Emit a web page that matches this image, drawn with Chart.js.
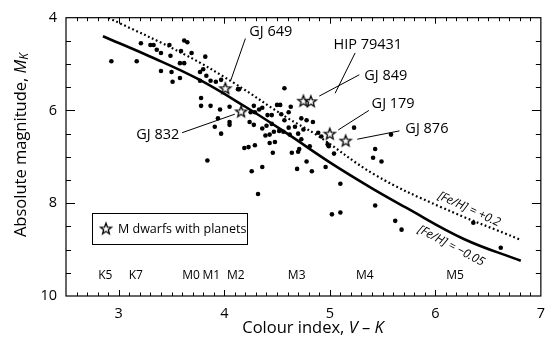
<!DOCTYPE html>
<html><head><meta charset="utf-8">
<script src="https://cdn.jsdelivr.net/npm/chart.js@4/dist/chart.umd.min.js"></script>
<style>html,body{margin:0;padding:0;background:#fff;}canvas{display:block;}</style>
</head><body>
<canvas id="c" width="554" height="344"></canvas>
<script>
// ---------- data ----------
const X_TICKS = [3, 4, 5, 6, 7];
const Y_TICKS = [4, 6, 8, 10];

// field M dwarfs: colour index V-K and absolute magnitude M_K
const FIELD_VK = [2.93,3.17,3.21,3.30,3.33,3.36,3.40,3.40,3.48,3.49,3.50,3.51,3.58,3.62,3.58,3.62,3.65,3.59,3.69,3.77,
  3.80,3.82,3.77,3.83,3.87,3.92,3.97,4.13,4.14,3.78,3.78,3.87,3.96,4.05,3.94,3.91,3.97,4.05,4.05,4.28,
  4.33,4.36,4.25,4.29,4.41,4.45,4.24,4.28,4.40,4.36,4.45,4.43,4.39,4.19,4.23,4.29,3.84,4.26,4.36,4.32,
  4.57,4.50,4.53,4.63,4.54,4.61,4.57,4.73,4.78,4.84,4.75,4.47,4.56,4.61,4.67,4.70,4.62,4.52,4.73,4.43,
  4.48,4.64,4.70,4.71,4.81,4.78,4.69,4.83,4.96,4.46,4.89,4.92,4.98,4.99,5.04,5.23,5.58,5.43,5.41,5.49,
  5.10,5.02,5.10,5.43,5.62,5.68,6.36,6.62];
const FIELD_MK = [4.94,4.94,4.55,4.59,4.59,4.69,4.76,5.15,4.59,4.82,5.17,5.38,4.98,4.98,5.30,4.49,4.53,4.72,4.76,5.17,
  5.11,4.84,5.36,5.25,5.36,5.38,5.34,5.54,5.54,5.73,5.90,5.90,5.98,5.92,6.17,6.35,6.50,6.25,6.31,5.90,
  5.98,5.94,6.04,6.04,6.10,6.10,6.25,6.31,6.33,6.39,6.29,6.52,6.54,6.81,6.79,6.75,7.08,7.31,7.22,7.80,
  5.52,5.88,5.88,5.92,6.08,6.04,6.21,6.17,6.21,6.25,6.41,6.46,6.46,6.37,6.35,6.50,6.52,6.44,6.62,6.70,
  6.68,6.91,6.89,6.83,6.77,7.10,7.26,7.31,7.22,6.91,6.48,6.56,6.73,6.77,6.93,6.37,6.52,6.83,7.02,7.10,
  7.58,8.24,8.20,8.05,8.38,8.57,8.42,8.96];

// M dwarfs with planets
const PLANET_HOSTS = ['GJ 649', 'GJ 832', 'HIP 79431', 'GJ 849', 'GJ 179', 'GJ 876'];
const HOST_VK = [4.01, 4.16, 4.75, 4.82, 5.00, 5.15];
const HOST_MK = [5.52, 6.02, 5.79, 5.80, 6.50, 6.65];
// label centres and leader lines (data units)
const LABEL_VK = [4.44, 3.37, 5.36, 5.53, 5.60, 5.92];
const LABEL_MK = [4.30, 6.52, 4.58, 5.26, 5.86, 6.39];
const LEADER_VK0 = [4.20, 3.60, 5.24, 5.28, 5.37, 5.66];
const LEADER_MK0 = [4.45, 6.48, 4.76, 5.23, 6.00, 6.44];
const LEADER_VK1 = [4.06, 4.10, 5.05, 4.90, 5.08, 5.26];
const LEADER_MK1 = [5.36, 6.08, 5.63, 5.69, 6.42, 6.62];

// calibration curves
const SOLAR_VK = [2.85, 3.29, 3.75, 4.20, 4.59, 5.00, 5.40, 5.71, 6.27, 6.81];
const SOLAR_MK = [4.40, 4.83, 5.32, 5.92, 6.49, 7.12, 7.68, 8.08, 8.77, 9.24];
const RICH_VK = [2.90, 3.63, 4.10, 4.59, 4.87, 5.43, 6.05, 6.80];
const RICH_MK = [4.00, 4.80, 5.42, 6.15, 6.52, 7.39, 8.08, 8.78];
const CURVE_LABELS = ['[Fe/H] = +0.2', '[Fe/H] = \u22120.05'];
const CURVE_LABEL_VK = [6.32, 6.15];
const CURVE_LABEL_MK = [8.13, 8.92];

// spectral types along the colour axis
const SPECTRAL_TYPES = ['K5', 'K7', 'M0', 'M1', 'M2', 'M3', 'M4', 'M5'];
const SPECTRAL_VK = [2.873, 3.162, 3.685, 3.877, 4.11, 4.686, 5.332, 6.187];
const SPECTRAL_MK = 9.55;

// ---------- drawing ----------
const FONT = '"Open Sans", "DejaVu Sans", sans-serif';
const toXY = (xs, ys) => xs.map((x, i) => ({x: x, y: ys[i]}));

function makeStar(r) {
  const s = Math.ceil(r * 2 + 4);
  const c = document.createElement('canvas');
  c.width = c.height = s;
  const g = c.getContext('2d');
  g.translate(s / 2, s / 2 + 0.5);
  g.beginPath();
  for (let i = 0; i < 10; i++) {
    const rr = i % 2 ? r * 0.42 : r;
    const a = -Math.PI / 2 + i * Math.PI / 5;
    g.lineTo(rr * Math.cos(a), rr * Math.sin(a));
  }
  g.closePath();
  g.fillStyle = '#fff'; g.fill();
  g.lineWidth = 1.3; g.strokeStyle = '#000'; g.lineJoin = 'miter'; g.stroke();
  return c;
}
const STAR_IMG = makeStar(5.8);

function drawPieces(ctx, pieces, cx, cy, angle) {
  ctx.save();
  ctx.translate(cx, cy);
  ctx.rotate(angle);
  let total = 0;
  pieces.forEach(p => { ctx.font = p.font; p.w = ctx.measureText(p.t).width; total += p.w; });
  let x = -total / 2;
  ctx.textBaseline = 'middle';
  ctx.textAlign = 'left';
  ctx.fillStyle = '#000';
  pieces.forEach(p => { ctx.font = p.font; ctx.fillText(p.t, x, p.dy || 0); x += p.w; });
  ctx.restore();
}

const decor = {
  id: 'decor',
  afterDatasetsDraw(chart) {
    const ctx = chart.ctx, xs = chart.scales.x, ys = chart.scales.y;
    const L = chart.chartArea.left, R = chart.chartArea.right, T = chart.chartArea.top, B = chart.chartArea.bottom;
    ctx.save();
    ctx.strokeStyle = '#000';
    ctx.fillStyle = '#000';
    // frame
    ctx.lineWidth = 1.2;
    ctx.strokeRect(L, T, R - L, B - T);
    // ticks (inward, all four sides)
    ctx.lineWidth = 1;
    ctx.beginPath();
    for (let i = 26; i < 70; i++) {
      const v = i / 10, px = Math.round(xs.getPixelForValue(v)) + 0.5;
      const len = (i % 10 === 0) ? 6 : 3.5;
      ctx.moveTo(px, B); ctx.lineTo(px, B - len);
      ctx.moveTo(px, T); ctx.lineTo(px, T + len);
    }
    for (let i = 9; i < 20; i++) {
      const v = i / 2, py = Math.round(ys.getPixelForValue(v)) + 0.5;
      const len = (i % 4 === 0) ? 9 : 5;
      ctx.moveTo(L, py); ctx.lineTo(L + len, py);
      ctx.moveTo(R, py); ctx.lineTo(R - len, py);
    }
    ctx.stroke();

    // leader lines and host labels
    ctx.lineWidth = 1;
    ctx.beginPath();
    PLANET_HOSTS.forEach((n, i) => {
      ctx.moveTo(xs.getPixelForValue(LEADER_VK0[i]), ys.getPixelForValue(LEADER_MK0[i]));
      ctx.lineTo(xs.getPixelForValue(LEADER_VK1[i]), ys.getPixelForValue(LEADER_MK1[i]));
    });
    ctx.stroke();
    ctx.font = '14.5px ' + FONT;
    ctx.textAlign = 'center'; ctx.textBaseline = 'middle';
    PLANET_HOSTS.forEach((n, i) => {
      ctx.fillText(n, xs.getPixelForValue(LABEL_VK[i]), ys.getPixelForValue(LABEL_MK[i]));
    });

    // spectral types
    ctx.font = '12px ' + FONT;
    SPECTRAL_TYPES.forEach((s, i) => {
      ctx.fillText(s, xs.getPixelForValue(SPECTRAL_VK[i]), ys.getPixelForValue(SPECTRAL_MK));
    });

    // curve labels
    const ang = [25 * Math.PI / 180, 28 * Math.PI / 180];
    CURVE_LABELS.forEach((s, i) => {
      drawPieces(ctx, [{t: s, font: 'italic 12px ' + FONT}],
        xs.getPixelForValue(CURVE_LABEL_VK[i]), ys.getPixelForValue(CURVE_LABEL_MK[i]), ang[i]);
    });

    // legend box
    const lx = L + 26, ly = B - 83, lw = 155, lh = 31;
    ctx.lineWidth = 1;
    ctx.strokeRect(Math.round(lx) + 0.5, Math.round(ly) + 0.5, lw, lh);
    ctx.drawImage(STAR_IMG, lx + 14 - STAR_IMG.width / 2, ly + lh / 2 - STAR_IMG.height / 2);
    ctx.font = '12.5px ' + FONT;
    ctx.textAlign = 'left';
    ctx.fillText('M dwarfs with planets', lx + 26, ly + lh / 2 + 0.5);

    // axis titles
    const big = '16.5px ' + FONT, it = 'italic 16.5px ' + FONT, sub = 'italic 12px ' + FONT;
    drawPieces(ctx, [{t: 'Colour index, ', font: big}, {t: 'V', font: it}, {t: ' \u2013 ', font: big}, {t: 'K', font: it}],
      313, 328, 0);
    drawPieces(ctx, [{t: 'Absolute magnitude, ', font: big}, {t: 'M', font: it}, {t: 'K', font: sub, dy: 4}],
      21, 145, -Math.PI / 2);
    ctx.restore();
  }
};

new Chart(document.getElementById('c'), {
  data: {
    datasets: [
      {type: 'scatter', data: toXY(HOST_VK, HOST_MK), pointStyle: STAR_IMG, order: 0},
      {type: 'scatter', data: toXY(FIELD_VK, FIELD_MK), pointRadius: 2.3, backgroundColor: '#000', borderWidth: 0, order: 1},
      {type: 'line', data: toXY(SOLAR_VK, SOLAR_MK), borderColor: '#000', borderWidth: 2.6, pointRadius: 0,
        tension: 0.4, fill: false, order: 2},
      {type: 'line', data: toXY(RICH_VK, RICH_MK), borderColor: '#000', borderWidth: 2.2, borderDash: [1.8, 2.6],
        pointRadius: 0, tension: 0.4, fill: false, order: 3}
    ]
  },
  options: {
    responsive: false, animation: false, devicePixelRatio: 1,
    layout: {padding: {left: 0, right: 6, top: 6, bottom: 0}},
    plugins: {legend: {display: false}, tooltip: {enabled: false}},
    scales: {
      x: {type: 'linear', position: 'bottom', min: 2.5, max: 7,
        afterBuildTicks: s => { s.ticks = X_TICKS.map(v => ({value: v})); },
        afterFit: s => { s.height = 48; },
        grid: {display: false, drawTicks: false}, border: {display: false},
        ticks: {padding: 9, color: '#000', font: {family: FONT, size: 14.5}}},
      y: {type: 'linear', position: 'left', reverse: true, min: 4, max: 10,
        afterBuildTicks: s => { s.ticks = Y_TICKS.map(v => ({value: v})); },
        afterFit: s => { s.width = 66; },
        grid: {display: false, drawTicks: false}, border: {display: false},
        ticks: {padding: 9, color: '#000', font: {family: FONT, size: 14.5}}}
    }
  },
  plugins: [decor]
});
</script>
</body></html>
